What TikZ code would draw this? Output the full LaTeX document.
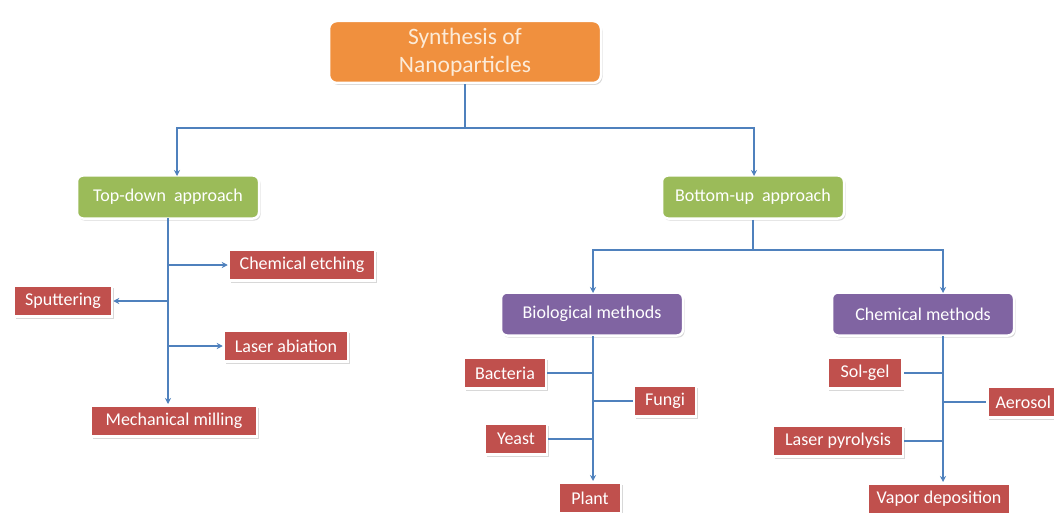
\documentclass[tikz,border=0pt]{standalone}
\usepackage{fontspec}
\setmainfont{Carlito}
\usetikzlibrary{shadows,arrows.meta,calc}
\definecolor{orng}{HTML}{F0903E}
\definecolor{grn}{HTML}{9BBB59}
\definecolor{prp}{HTML}{8064A2}
\definecolor{rd}{HTML}{C0504D}
\definecolor{ln}{HTML}{4F81BD}
\definecolor{cream}{HTML}{FCEBD8}
\begin{document}
\begin{tikzpicture}[x=1pt,y=-1pt,
  box/.style={draw=white, line width=2.5pt, text=white, inner sep=0pt,
    font=\fontsize{18}{21}\selectfont,
    drop shadow={opacity=0.3, shadow xshift=1.5pt, shadow yshift=-2pt}},
  titlebox/.style={box, fill=orng, rounded corners=8pt, minimum width=272pt, minimum height=62pt,
    align=center, text=cream, font=\fontsize{23.5}{28}\selectfont},
  apbox/.style={box, fill=grn, rounded corners=6pt, minimum width=182pt, minimum height=43pt},
  mbox/.style={box, fill=prp, rounded corners=6pt, minimum width=182pt, minimum height=43pt},
  leaf/.style={box, fill=rd, minimum height=31pt},
  conn/.style={draw=ln, line width=1.1pt},
  arr/.style={conn, -{Stealth[length=6pt,width=6pt]}}
]
\useasboundingbox (0,0) rectangle (1054,513);
\fill[white] (0,0) rectangle (1054,513);

\node[titlebox] (title) at (465,52) {Synthesis of\\Nanoparticles};
\node[apbox] (td) at (168,197) {Top-down\ \ approach};
\node[apbox] (bu) at (753,197) {Bottom-up\ \ approach};

\node[mbox] (bio) at (592,314) {Biological methods};
\node[mbox] (chem) at (923,314) {Chemical methods};

\node[leaf, minimum width=146pt] (ce) at (302,265) {Chemical etching};
\node[leaf, minimum width=98pt] (sp) at (63,301) {Sputtering};
\node[leaf, minimum width=124pt] (la) at (286,346) {Laser abiation};
\node[leaf, minimum width=166pt] (mm) at (174,421) {Mechanical milling};

\node[leaf, minimum width=82pt] (bac) at (505,373) {Bacteria};
\node[leaf, minimum width=62pt] (fun) at (665,401) {Fungi};
\node[leaf, minimum width=62pt] (yea) at (516,439) {Yeast};
\node[leaf, minimum width=62pt] (pla) at (590,498) {Plant};

\node[leaf, minimum width=75pt] (sol) at (865,373) {Sol-gel};
\node[leaf, minimum width=72pt, anchor=west] (aer) at (986,402) {Aerosol};
\node[leaf, minimum width=130pt] (lp) at (838,441) {Laser pyrolysis};
\node[leaf, minimum width=143pt] (vd) at (939,499) {Vapor deposition};

% top level
\coordinate (j1) at (465,128);
\coordinate (tdin) at (177,176);
\coordinate (buin) at (754,176);
\draw[conn] (title.south) -- (j1);
\draw[arr] (j1) -| (tdin);
\draw[arr] (j1) -| (buin);

% top-down
\coordinate (tdv) at (168,218);
\coordinate (mmin) at (168,404);
\draw[arr] (tdv) -- (mmin);
\draw[arr] (tdv |- ce.west) -- (ce.west);
\draw[arr] (tdv |- sp.east) -- (sp.east);
\draw[arr] (tdv |- la.west) -- (la.west);

% bottom-up
\coordinate (j2) at (753,250);
\coordinate (bioin) at (593,293);
\coordinate (chemin) at (943,293);
\draw[conn] (bu.south) -- (j2);
\draw[arr] (j2) -| (bioin);
\draw[arr] (j2) -| (chemin);

% biological
\coordinate (bv) at (593,336);
\coordinate (plin) at (593,481);
\draw[arr] (bv) -- (plin);
\draw[conn] (bv |- bac.east) -- (bac.east);
\draw[conn] (bv |- fun.west) -- (fun.west);
\draw[conn] (bv |- yea.east) -- (yea.east);

% chemical
\coordinate (cv) at (943,336);
\coordinate (vdin) at (943,482);
\draw[arr] (cv) -- (vdin);
\draw[conn] (cv |- sol.east) -- (sol.east);
\draw[conn] (cv |- aer.west) -- (aer.west);
\draw[conn] (cv |- lp.east) -- (lp.east);
\end{tikzpicture}
\end{document}
